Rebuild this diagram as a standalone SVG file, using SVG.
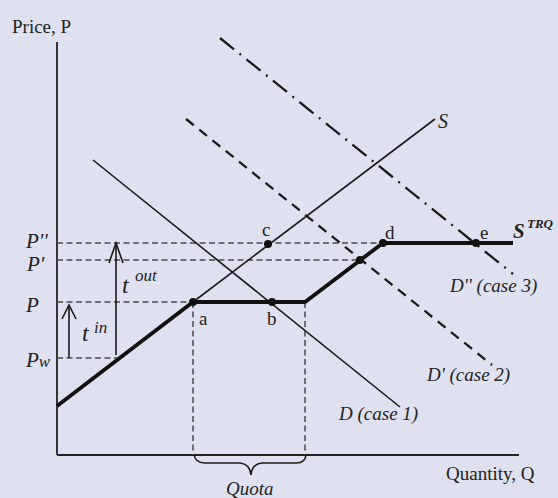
<svg xmlns="http://www.w3.org/2000/svg" width="558" height="498" viewBox="0 0 558 498">
<style>
.t{font-family:"Liberation Serif","Times New Roman",serif;fill:#222;font-size:19px}
.i{font-style:italic}
.big{font-size:21px}
.tt{font-size:24px}
.sup{font-size:17px}
.thin{stroke:#1a1a1a;stroke-width:1.6;fill:none}
.axis{stroke:#222;stroke-width:1.8;fill:none}
.thick{stroke:#111;stroke-width:3.8;fill:none;stroke-linejoin:miter}
.guide{stroke:#4a4a4a;stroke-width:1.5;stroke-dasharray:6,3.5;fill:none}
.dash{stroke:#1a1a1a;stroke-width:2.3;stroke-dasharray:10,7;fill:none}
.dashdot{stroke:#1a1a1a;stroke-width:2.3;stroke-dasharray:18,7,2,7;fill:none}
.dot{fill:#111}
</style>
<rect width="558" height="498" fill="#dfe1f0"/>
<g id="axes">
<line class="axis" x1="57" y1="42" x2="57" y2="455"/>
<line class="axis" x1="57" y1="455" x2="519" y2="455"/>
<text class="t" x="12" y="33">Price, P</text>
<text class="t" x="446" y="480">Quantity, Q</text>
</g>
<g id="guides">
<line class="guide" x1="57" y1="243" x2="383" y2="243"/>
<line class="guide" x1="57" y1="260" x2="360" y2="260"/>
<line class="guide" x1="57" y1="302" x2="193" y2="302"/>
<line class="guide" x1="57" y1="358" x2="117" y2="358"/>
<line class="guide" x1="193" y1="302" x2="193" y2="455"/>
<line class="guide" x1="305" y1="302" x2="305" y2="455"/>
</g>
<g id="connectors">
<line class="thin" x1="193" y1="302" x2="435" y2="119"/>
<line class="thin" x1="93" y1="160" x2="400" y2="407"/>
<line class="dash" x1="186" y1="119" x2="492" y2="365"/>
<line class="dashdot" x1="220" y1="38" x2="513" y2="274"/>
<polyline class="thick" points="57,406 193,302 305,302 383,243 513,243"/>
<line class="thin" x1="69" y1="358" x2="69" y2="305"/>
<polyline class="thin" points="62,319 69,305 76,319"/>
<line class="thin" x1="116" y1="355" x2="116" y2="243"/>
<polyline class="thin" points="109,263 116,243 123,263"/>
<path class="thin" d="M194,454 Q195,463 205,463 L240,463 Q250,464 251,475 Q252,464 262,463 L296,463 Q306,463 306,454"/>
</g>
<g id="points">
<circle class="dot" cx="193" cy="302" r="4"/>
<circle class="dot" cx="272" cy="302" r="4"/>
<circle class="dot" cx="268" cy="244" r="4"/>
<circle class="dot" cx="360" cy="260" r="4"/>
<circle class="dot" cx="383" cy="243" r="4"/>
<circle class="dot" cx="476" cy="243" r="4"/>
</g>
<g id="labels">
<text class="t" x="199" y="325">a</text>
<text class="t" x="267" y="325">b</text>
<text class="t" x="262" y="236">c</text>
<text class="t" x="385" y="239">d</text>
<text class="t" x="480" y="239">e</text>
<text class="t i" x="438" y="128" style="font-size:20px">S</text>
<text class="t i" x="513" y="238" style="font-size:21px;font-weight:bold">S</text>
<text class="t i" x="527" y="228" style="font-size:13px;font-weight:bold">TRQ</text>
<text class="t i big" x="26" y="248">P''</text>
<text class="t i big" x="27" y="271">P'</text>
<text class="t i big" x="26" y="312">P</text>
<text class="t i big" x="26" y="367">P<tspan class="sup">w</tspan></text>
<text class="t i tt" x="82" y="341">t</text>
<text class="t i sup" x="94" y="333">in</text>
<text class="t i tt" x="122" y="293">t</text>
<text class="t i sup" x="135" y="281">out</text>
<text class="t i" x="339" y="420">D (case 1)</text>
<text class="t i" x="427" y="381">D' (case 2)</text>
<text class="t i" x="450" y="292">D'' (case 3)</text>
<text class="t i" x="226" y="495">Quota</text>
</g>
</svg>
